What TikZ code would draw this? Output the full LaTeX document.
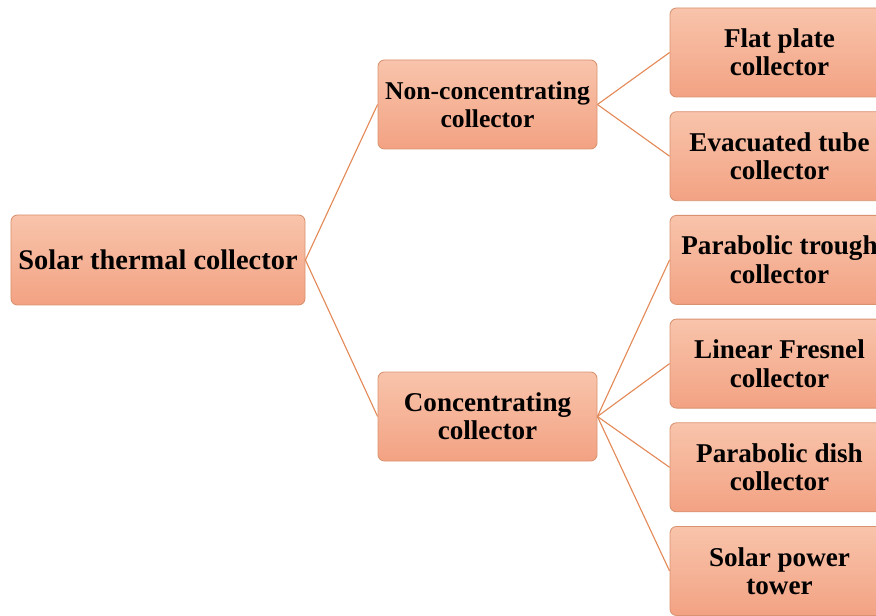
\documentclass[tikz,border=0pt]{standalone}
\usepackage{fontspec}
\setmainfont{Liberation Serif}
\usepackage{tikz}
\usetikzlibrary{calc}
\definecolor{boxtop}{HTML}{F8C4AB}
\definecolor{boxbot}{HTML}{F3A283}
\definecolor{boxline}{HTML}{D99270}
\definecolor{linkcol}{HTML}{E38A58}
\tikzset{
  cbox/.style={draw=boxline,line width=0.6pt,rounded corners=0.16cm,top color=boxtop,bottom color=boxbot,
    align=center,inner sep=0pt,minimum height=2.225cm,font=\fontsize{19.3}{20.2}\selectfont\bfseries},
  link/.style={draw=linkcol,line width=0.8pt}
}
\begin{document}
\begin{tikzpicture}
  \useasboundingbox (0,0) rectangle (21.9,15.375);
  \clip (0,0) rectangle (21.9,15.375);
  \node[cbox,minimum width=7.35cm,minimum height=2.25cm,font=\fontsize{20.2}{21}\selectfont\bfseries](root)at(3.95,8.875){Solar thermal collector};
  \node[cbox,minimum width=5.475cm,font=\fontsize{18.2}{20.2}\selectfont\bfseries](nonc)at(12.1875,12.7625){Non-concentrating\\collector};
  \node[cbox,minimum width=5.475cm](conc)at(12.1875,4.9625){Concentrating\\collector};
  \node[cbox,minimum width=5.475cm](flat)at(19.4875,14.0625){Flat plate\\collector};
  \node[cbox,minimum width=5.475cm](evac)at(19.4875,11.47){Evacuated tube\\collector};
  \node[cbox,minimum width=5.475cm](trough)at(19.4875,8.8775){Parabolic trough\\collector};
  \node[cbox,minimum width=5.475cm](fresnel)at(19.4875,6.285){Linear Fresnel\\collector};
  \node[cbox,minimum width=5.475cm](dish)at(19.4875,3.6925){Parabolic dish\\collector};
  \node[cbox,minimum width=5.475cm](tower)at(19.4875,1.1){Solar power\\tower};
  \foreach \c in {nonc,conc} \draw[link](root.east)--(\c.west);
  \foreach \c in {flat,evac} \draw[link](nonc.east)--(\c.west);
  \foreach \c in {trough,fresnel,dish,tower} \draw[link](conc.east)--(\c.west);
\end{tikzpicture}
\end{document}
